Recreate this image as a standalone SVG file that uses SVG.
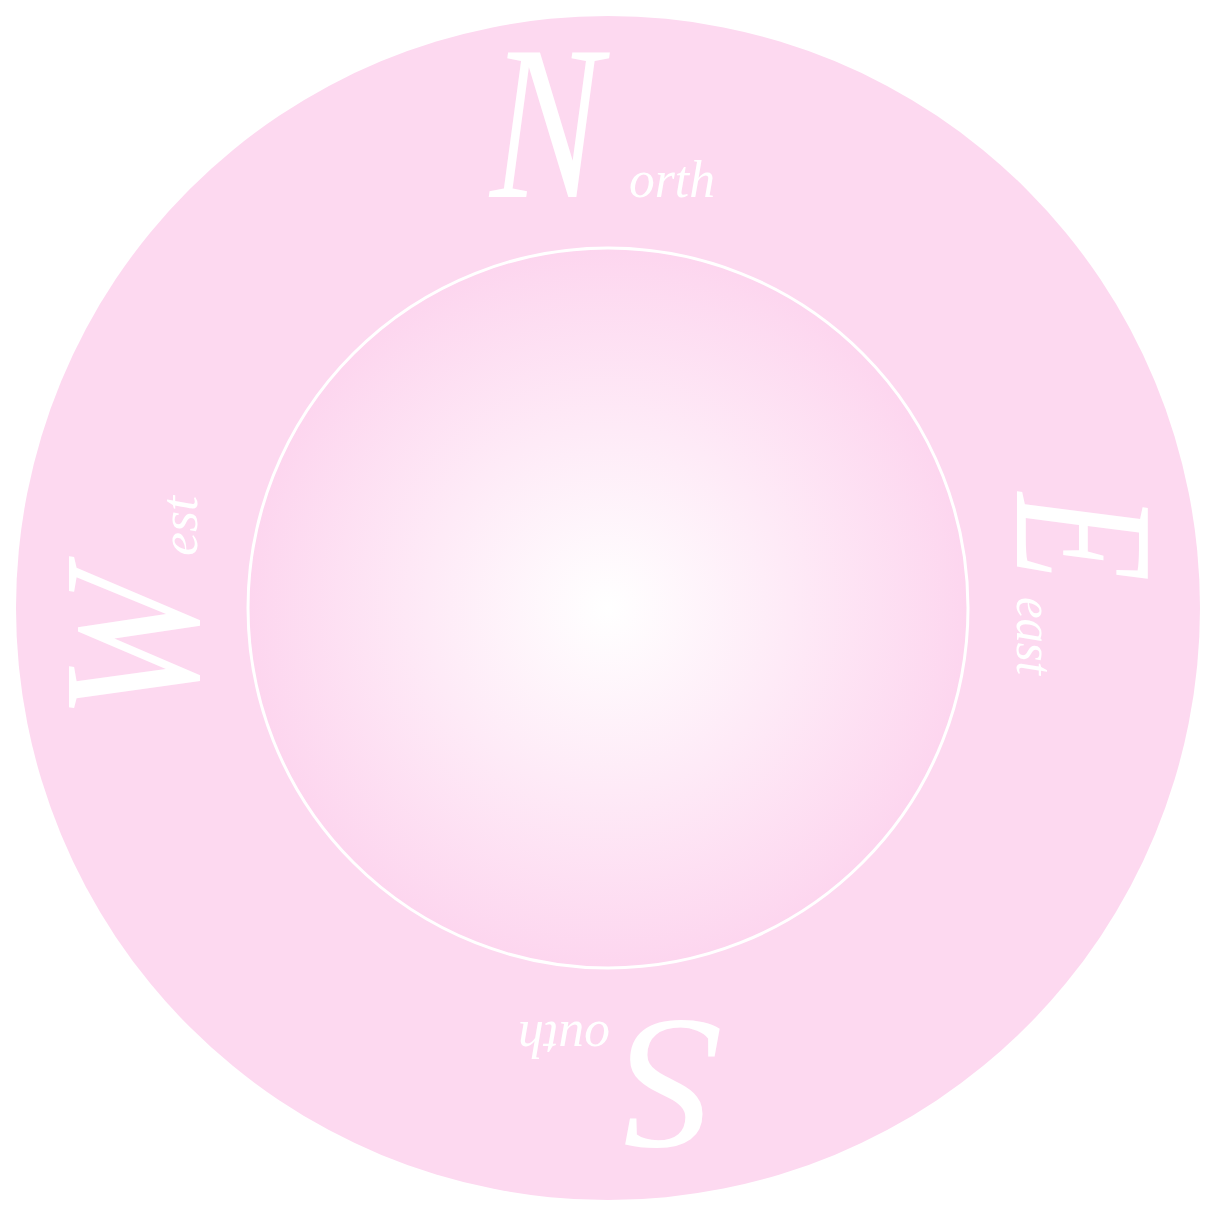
<svg xmlns="http://www.w3.org/2000/svg" width="1216" height="1216" viewBox="0 0 1216 1216">
<defs>
<radialGradient id="g" cx="0.5" cy="0.5" r="0.5">
<stop offset="0" stop-color="#ffffff"/>
<stop offset="1" stop-color="#fdd6ef"/>
</radialGradient>
<style>
.big{font-family:"Liberation Serif",serif;font-style:italic;fill:#ffffff}
.small{font-family:"Liberation Serif",serif;font-style:italic;font-size:52px;fill:#ffffff}
</style>
</defs>
<rect width="1216" height="1216" fill="#ffffff"/>
<g id="ring"><circle cx="608" cy="608" r="592" fill="#fdd9f0"/></g>
<g id="center"><circle cx="608" cy="608" r="360" fill="url(#g)" stroke="#ffffff" stroke-width="3"/></g>
<g id="north" transform="translate(490,197)">
<text class="big" x="0" y="0" font-size="220" textLength="112" lengthAdjust="spacingAndGlyphs">N</text>
<text class="small" x="139" y="0" textLength="86" lengthAdjust="spacingAndGlyphs">orth</text>
</g>
<g id="east" transform="translate(1017,493) rotate(90)">
<text class="big" x="0" y="0" font-size="200" textLength="88" lengthAdjust="spacingAndGlyphs">E</text>
<text class="small" x="104" y="0" textLength="78" lengthAdjust="spacingAndGlyphs">east</text>
</g>
<g id="south" transform="translate(722,1022) rotate(180)">
<text class="big" x="0" y="0" font-size="190" textLength="100" lengthAdjust="spacingAndGlyphs">S</text>
<text class="small" x="112" y="0" textLength="92" lengthAdjust="spacingAndGlyphs">outh</text>
</g>
<g id="west" transform="translate(197,720) rotate(-90)">
<text class="big" x="0" y="0" font-size="195" textLength="150" lengthAdjust="spacingAndGlyphs">W</text>
<text class="small" x="164" y="0" textLength="60" lengthAdjust="spacingAndGlyphs">est</text>
</g>
</svg>
